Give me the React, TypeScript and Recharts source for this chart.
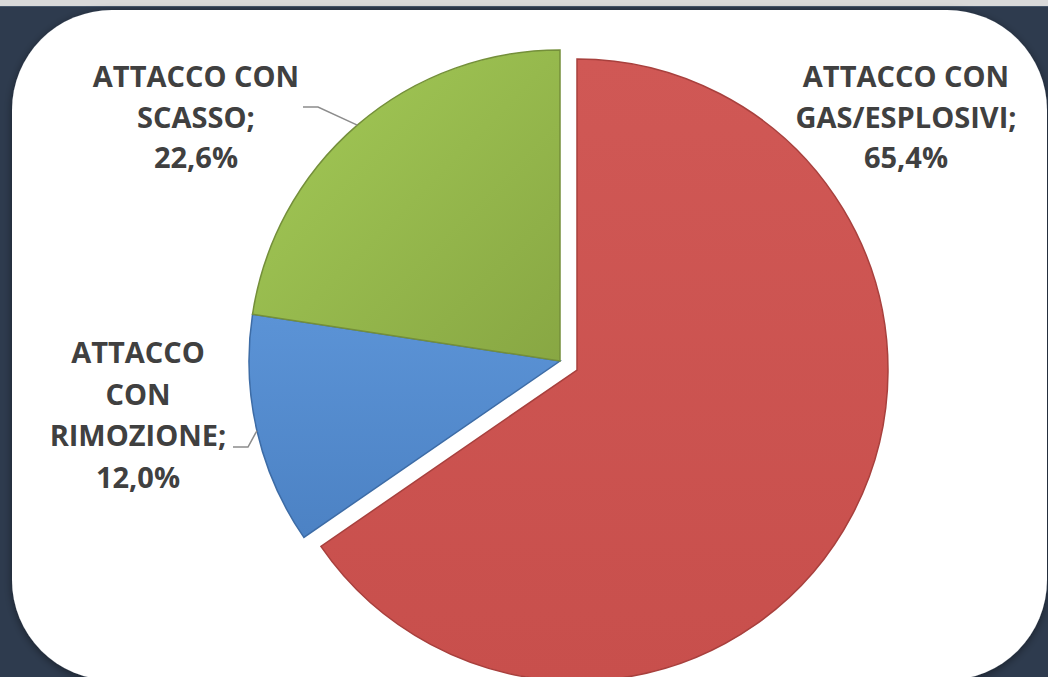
import { Cell, Pie, PieChart } from "recharts"

const CATEGORIES = ["ATTACCO CON GAS/ESPLOSIVI", "ATTACCO CON RIMOZIONE", "ATTACCO CON SCASSO"]
const SHARES = [65.4, 12.0, 22.6]
const LABEL_LINES = [["ATTACCO CON", "GAS/ESPLOSIVI;"], ["ATTACCO", "CON", "RIMOZIONE;"], ["ATTACCO CON", "SCASSO;"]]
const COLORS = ["red", "blue", "green"]

const data = CATEGORIES.map((name, i) => ({ name, value: SHARES[i] }))

const W = 1048
const H = 677
const RAD = Math.PI / 180

// where the data labels sit (Excel placed them by hand)
const LABEL_LAYOUT = [
  { x: 906, y: 87, gap: 40.5, leader: null },
  { x: 138, y: 363, gap: 41.5, leader: [[233, 447], [248, 447]] },
  { x: 196, y: 87, gap: 40.5, leader: [[303, 107], [318, 107]] },
]

const fmt = (v: number) => v.toFixed(1).replace(".", ",") + "%"

function makeLabel(show: number[]) {
  return (props: any) => {
    const { cx, cy, midAngle, outerRadius, index, value } = props
    if (!show.includes(index)) return null
    const l = LABEL_LAYOUT[index]
    const lines = [...LABEL_LINES[index], fmt(value)]
    let leader = null
    if (l.leader) {
      const ex = cx + outerRadius * Math.cos(-midAngle * RAD)
      const ey = cy + outerRadius * Math.sin(-midAngle * RAD)
      const pts = [...l.leader, [ex, ey]].map((p) => p.join(",")).join(" ")
      leader = <polyline points={pts} fill="none" stroke="#8c8c8c" strokeWidth={1.5} />
    }
    return (
      <g key={"lbl" + index}>
        {leader}
        <text
          x={l.x}
          y={l.y}
          textAnchor="middle"
          fill="#404040"
          fontFamily="'Open Sans', sans-serif"
          fontWeight={700}
          fontSize={29}
        >
          {lines.map((t, i) => (
            <tspan key={i} x={l.x} y={l.y + i * l.gap}>
              {t}
            </tspan>
          ))}
        </text>
      </g>
    )
  }
}

const STROKES: Record<string, string> = { red: "#a8403d", blue: "#3d6ca6", green: "#748f3a" }

export default function App() {
  return (
    <div style={{ position: "fixed", left: 0, top: 0, width: W, height: H, background: "#2e3b4e", overflow: "hidden" }}>
      <svg width={W} height={H} style={{ position: "absolute", left: 0, top: 0 }}>
        <defs>
          <filter id="panelShadow" x="-10%" y="-10%" width="120%" height="120%">
            <feDropShadow dx="0" dy="2" stdDeviation="4" floodColor="#000" floodOpacity="0.45" />
          </filter>
        </defs>
        <rect x={0} y={0} width={W} height={6} fill="#d9d9d9" />
        <rect x={0} y={6} width={W} height={1} fill="#46566a" />
        <rect x={12} y={10} width={1035} height={670} rx={100} ry={100} fill="#ffffff" filter="url(#panelShadow)" />
      </svg>
      <div style={{ position: "absolute", left: 0, top: 0 }}>
        <PieChart width={W} height={H}>
          <defs>
            <linearGradient id="red" x1="0" y1="0" x2="0" y2="1">
              <stop offset="0%" stopColor="#d05855" />
              <stop offset="100%" stopColor="#c84f4c" />
            </linearGradient>
            <linearGradient id="blue" x1="0" y1="0" x2="0" y2="1">
              <stop offset="0%" stopColor="#5b93d6" />
              <stop offset="100%" stopColor="#4c82c4" />
            </linearGradient>
            <linearGradient id="green" x1="0" y1="0" x2="1" y2="1">
              <stop offset="0%" stopColor="#a4cb57" />
              <stop offset="100%" stopColor="#88a743" />
            </linearGradient>
          </defs>
          <Pie
            data={data}
            dataKey="value"
            nameKey="name"
            cx={555}
            cy={356}
            outerRadius={311}
            startAngle={90}
            endAngle={-270}
            isAnimationActive={false}
            labelLine={false}
            label={makeLabel([1, 2])}
          >
            {data.map((d, i) =>
              i === 0 ? (
                <Cell key={d.name} fill="transparent" stroke="none" />
              ) : (
                <Cell key={d.name} fill={`url(#${COLORS[i]})`} stroke={STROKES[COLORS[i]]} strokeWidth={1.5} />
              )
            )}
          </Pie>
          <Pie
            data={data}
            dataKey="value"
            nameKey="name"
            cx={572}
            cy={365}
            outerRadius={311}
            startAngle={90}
            endAngle={-270}
            isAnimationActive={false}
            labelLine={false}
            label={makeLabel([0])}
          >
            {data.map((d, i) =>
              i === 0 ? (
                <Cell key={d.name} fill={`url(#${COLORS[i]})`} stroke={STROKES[COLORS[i]]} strokeWidth={1.5} />
              ) : (
                <Cell key={d.name} fill="transparent" stroke="none" />
              )
            )}
          </Pie>
        </PieChart>
      </div>
    </div>
  )
}
